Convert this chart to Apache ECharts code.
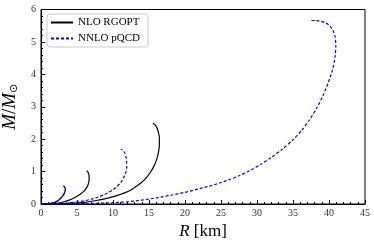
<!DOCTYPE html>
<html><head><meta charset="utf-8">
<script src="https://cdn.jsdelivr.net/npm/echarts@6/dist/echarts.min.js"></script>
<style>html,body{margin:0;padding:0;background:#fff}#c{width:374px;height:249px}</style>
</head><body><div id="c"></div>
<script>
const seriesNames = ['NLO RGOPT', 'NNLO pQCD'];
const xTicks = [0,5,10,15,20,25,30,35,40,45];
const yTicks = [0,1,2,3,4,5,6];

const black1R = [0,0.5,1.0,1.5,2.0,2.4,2.75,3.05,3.25,3.36,3.38,3.33,3.22,3.1];
const black1M = [0,0.0,0.005,0.025,0.06,0.11,0.18,0.26,0.34,0.41,0.46,0.51,0.54,0.56];
const black2R = [0,1,2,2.6,3.2,3.9,4.5,5.0,5.5,5.9,6.2,6.45,6.6,6.68,6.68,6.6,6.48,6.35];
const black2M = [0,0.002,0.015,0.035,0.07,0.12,0.18,0.24,0.31,0.38,0.46,0.55,0.64,0.74,0.85,0.94,1.0,1.03];
const black3R = [0,2,4,6,7.5,8.7,9.8,10.8,11.7,12.6,13.4,14.1,14.7,15.2,15.6,15.95,16.2,16.38,16.45,16.43,16.3,16.1,15.85,15.55];
const black3M = [0,0.003,0.02,0.05,0.10,0.15,0.21,0.28,0.35,0.45,0.57,0.69,0.83,0.98,1.13,1.3,1.48,1.68,1.88,2.06,2.22,2.35,2.44,2.49];

const blue1R = [0,0.5,1.0,1.5,2.0,2.4,2.75,3.05,3.27,3.38,3.4,3.36,3.27,3.15];
const blue1M = [0,0.0,0.005,0.025,0.06,0.11,0.18,0.26,0.34,0.41,0.46,0.5,0.53,0.55];
const blue2R = [0,2,3.5,4.8,6.0,7.0,7.9,8.7,9.4,10.0,10.5,10.95,11.3,11.6,11.8,11.9,11.9,11.83,11.7,11.5,11.3,11.1];
const blue2M = [0,0.005,0.025,0.06,0.1,0.15,0.21,0.28,0.36,0.44,0.53,0.63,0.74,0.87,1.0,1.14,1.28,1.42,1.54,1.62,1.67,1.69];
const blue3R = [0,4,7,10,12,14,16,18,20,22,24,26,27.5,29,30.5,32,33.5,35,36.2,37.3,38.3,39.2,39.9,40.5,40.85,40.95,40.85,40.55,40.1,39.5,38.8,38.1,37.4];
const blue3M = [0,0.003,0.015,0.04,0.07,0.12,0.19,0.27,0.36,0.47,0.59,0.74,0.87,1.03,1.22,1.44,1.69,1.98,2.27,2.6,2.96,3.36,3.75,4.15,4.55,4.9,5.15,5.35,5.5,5.59,5.64,5.66,5.66];

function pts(R, M){ return R.map((r,i)=>[r, M[i]]); }

const chart = echarts.init(document.getElementById('c'), null, {renderer:'canvas'});
const serif = 'Liberation Serif, DejaVu Serif, serif';
const blackStyle = {color:'#000', width:1.2, type:'solid'};
const blueStyle = {color:'#0000ff', width:1.2, type:[3,2]};
function line(name, data, style, z){
  return {name, type:'line', data, showSymbol:false, symbol:'none', smooth:0.25,
    lineStyle:style, itemStyle:{color:style.color}, z, animation:false};
}
chart.setOption({
  animation:false,
  grid:{left:41, right:9, top:9.5, bottom:45, show:true, borderColor:'#000', borderWidth:1, containLabel:false, outerBoundsMode:'none'},
  legend:{
    data:[{name:seriesNames[0]},{name:seriesNames[1]}],
    orient:'vertical', left:47, top:14, itemWidth:22, itemHeight:10, itemGap:5,
    padding:[3,8,3,3], backgroundColor:'#fff', borderColor:'#ccc', borderWidth:1, borderRadius:3,
    itemStyle:{opacity:0},
    textStyle:{fontFamily:serif, fontSize:11, color:'#000'}
  },
  xAxis:{type:'value', min:0, max:45, interval:5,
    name:'{i|R} [km]', nameLocation:'middle', nameGap:16,
    nameTextStyle:{fontFamily:serif, fontSize:17, color:'#000', rich:{i:{fontFamily:serif, fontStyle:'italic', fontSize:17}}},
    axisLine:{lineStyle:{color:'#000', width:1}},
    axisTick:{inside:true, length:4, lineStyle:{color:'#000'}},
    minorTick:{show:true, splitNumber:5, length:2, lineStyle:{color:'#000'}},
    splitLine:{show:false},
    axisLabel:{fontFamily:serif, fontSize:10, color:'#333', margin:4,
      formatter:v=>xTicks.includes(v)?String(v):''}
  },
  yAxis:{type:'value', min:0, max:6, interval:1,
    name:'{i|M}/{i|M}{s|⊙}', nameLocation:'middle', nameGap:12, nameRotate:90,
    nameTextStyle:{fontFamily:serif, fontSize:19, color:'#000',
      rich:{i:{fontFamily:serif, fontStyle:'italic', fontSize:19}, s:{fontFamily:'DejaVu Sans', fontSize:11, verticalAlign:'bottom', padding:[9,0,0,0]}}},
    axisLine:{lineStyle:{color:'#000', width:1}},
    axisTick:{inside:true, length:4, lineStyle:{color:'#000'}},
    minorTick:{show:true, splitNumber:5, length:2, lineStyle:{color:'#000'}},
    splitLine:{show:false},
    axisLabel:{fontFamily:serif, fontSize:10, color:'#333', margin:5,
      formatter:v=>yTicks.includes(v)?String(v):''}
  },
  series:[
    line(seriesNames[0], pts(black1R,black1M), blackStyle, 2),
    line(seriesNames[0], pts(black2R,black2M), blackStyle, 2),
    line(seriesNames[0], pts(black3R,black3M), blackStyle, 2),
    line(seriesNames[1], pts(blue1R,blue1M), blueStyle, 3),
    line(seriesNames[1], pts(blue2R,blue2M), blueStyle, 3),
    line(seriesNames[1], pts(blue3R,blue3M), blueStyle, 3)
  ]
});
</script></body></html>
